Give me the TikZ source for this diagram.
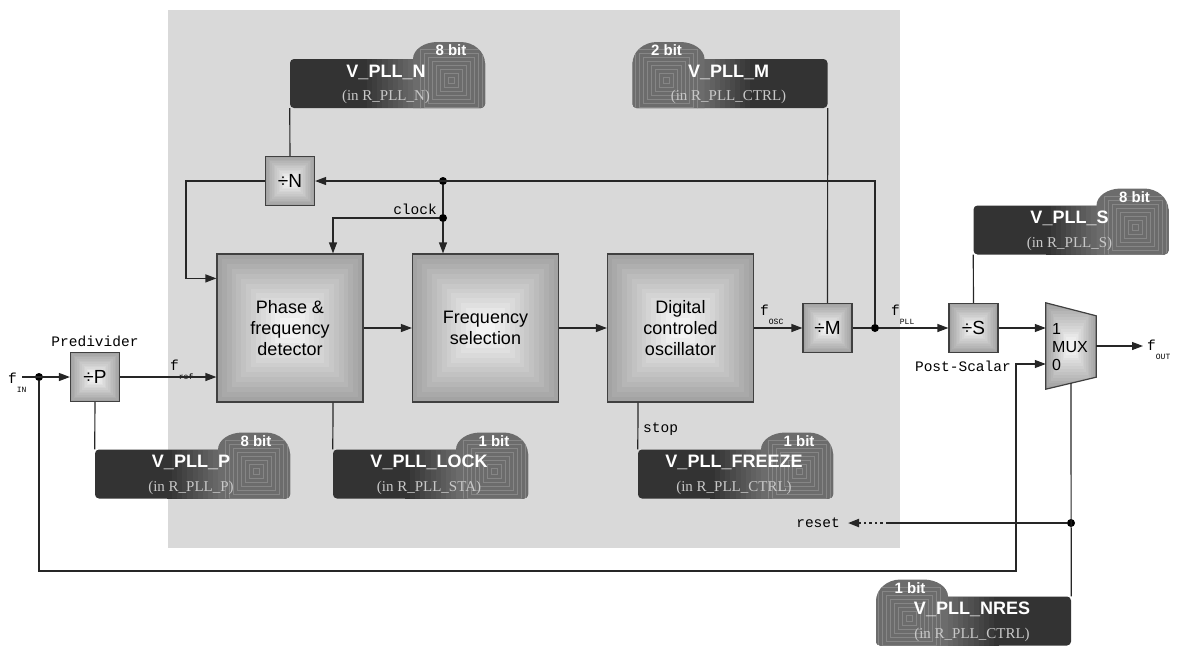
\documentclass[tikz,border=0pt]{standalone}
\usepackage{fontspec}
\setmainfont{Liberation Sans}
\newfontfamily\labelfont{Liberation Mono}
\newfontfamily\regfont{Liberation Serif}
\usepackage{tikz}
\usetikzlibrary{positioning,arrows.meta,calc}
\definecolor{panelgray}{HTML}{D9D9D9}
\definecolor{regdark}{HTML}{333333}
\definecolor{regtab}{HTML}{6C6C6C}
\definecolor{regsub}{HTML}{C8C8C8}

\tikzset{
  conn/.style={line width=1.2pt, black!85},
  sig/.style={conn, -{Triangle[length=11pt,width=8pt]}},
  dot/.style={circle, fill=black, inner sep=0pt, minimum size=8pt},
  shadebox/.style={draw=black!75, line width=1.2pt,
    path picture={
      \foreach \k [evaluate=\k as \c using 36-2.4*\k] in {0,...,13}
        \fill[black!\c]
          ($(path picture bounding box.south west)!\k/30!(path picture bounding box.north east)$)
          rectangle
          ($(path picture bounding box.north east)!\k/30!(path picture bounding box.south west)$);
    }},
  bigblock/.style={shadebox, minimum width=146pt, minimum height=148pt, align=center,
    font=\fontsize{18}{21}\selectfont},
  divbox/.style={shadebox, minimum size=49pt, inner sep=0pt, font=\fontsize{19}{19}\selectfont},
  lbl/.style={inner sep=0pt, font=\labelfont\fontsize{14.5}{14.5}\selectfont},
  regbody/.style={fill=regdark, rounded corners=4pt, minimum width=195pt, minimum height=49pt, inner sep=0pt},
  regname/.style={inner sep=0pt, text=white, font=\bfseries\fontsize{18}{18}\selectfont},
  regreg/.style={inner sep=0pt, text=regsub, font=\regfont\fontsize{15}{15}\selectfont},
  regbits/.style={inner sep=0pt, text=white, font=\bfseries\fontsize{15}{15}\selectfont},
}

% signal name with subscript
\newcommand{\fsig}[1]{f\raisebox{-9pt}{\fontsize{8}{8}\selectfont #1}}

% register field: name, centre, bits, field, register, tab side (1 right, -1 left)
\newcommand{\regbox}[6]{%
  \node[regbody] (#1) at (#2) {};
  \begin{scope}[shift={(#1.center)}, xscale=#6]
    \foreach \i [evaluate=\i as \m using 100-10*\i] in {0,...,9}
      \fill[regdark!\m!regtab] (-25.5+5.1*\i,-24.5) rectangle (-20.2+5.1*\i,24.5);
    \begin{scope}
      \clip (25.5,24.5) -- (25.5,-24.5) .. controls (25.5,-33.9) and (36.5,-41.5) .. (50,-41.5)
        -- (73,-41.5) .. controls (86.5,-41.5) and (97.5,-31.8) .. (97.5,-20) -- (97.5,24.5) -- cycle;
      \clip[rounded corners=4pt] (-97.5,-60) rectangle (97.5,24.5);
      \fill[regtab] (20,-45) rectangle (100,30);
      \foreach \r in {3,7,...,31}
        \draw[regtab!82!white, line width=0.5pt] (64-\r,-3-\r) rectangle (64+\r,-3+\r);
    \end{scope}
  \end{scope}
  \node[regname] (#1-n) at ($(#1.center)+(-1.5,-11.5)$) {#4};
  \node[regreg] (#1-r) at ($(#1.center)+(-1.5,13.5)$) {#5};
  \node[regbits] (#1-b) at ($(#1.center)+(#6*63.5,-33)$) {#3};
}

\begin{document}
\begin{tikzpicture}[x=1pt, y=-1pt]
  \useasboundingbox (0,0) rectangle (1183,646);
  % PLL core background
  \fill[panelgray] (168,10) rectangle (900,548);

  % main blocks
  \node[bigblock] (pfd) at (290,328) {Phase \&\\frequency\\detector};
  \node[bigblock] (fsel) at (485.5,328) {Frequency\\selection};
  \node[bigblock] (dco) at (680.5,328) {Digital\\controled\\oscillator};

  % dividers
  \node[divbox] (divP) at (95,377) {÷P};
  \node[divbox] (divN) at (290,181) {÷N};
  \node[divbox] (divM) at (827.5,328) {÷M};
  \node[divbox] (divS) at (973.5,328) {÷S};

  % multiplexer
  \node[minimum width=50pt, minimum height=86pt, inner sep=0pt] (mux) at (1071,346) {};
  \path[shadebox] (mux.north west) -- ($(mux.north east)+(0,13)$)
    -- ($(mux.south east)+(0,-12)$) -- (mux.south west) -- cycle;
  \node[anchor=west, inner sep=0pt, align=left, font=\fontsize{16}{18}\selectfont] (muxtxt)
    at (1052,347) {1\\MUX\\0};

  % register fields
  \regbox{regN}{387.5,83.5}{8 bit}{V\_PLL\_N}{(in R\_PLL\_N)}{1}
  \regbox{regM}{730,83.5}{2 bit}{V\_PLL\_M}{(in R\_PLL\_CTRL)}{-1}
  \regbox{regS}{1071,230}{8 bit}{V\_PLL\_S}{(in R\_PLL\_S)}{1}
  \regbox{regP}{192.5,474}{8 bit}{V\_PLL\_P}{(in R\_PLL\_P)}{1}
  \regbox{regL}{430.5,474}{1 bit}{V\_PLL\_LOCK}{(in R\_PLL\_STA)}{1}
  \regbox{regF}{735.5,474}{1 bit}{V\_PLL\_FREEZE}{(in R\_PLL\_CTRL)}{1}
  \regbox{regR}{973.5,621}{1 bit}{V\_PLL\_NRES}{(in R\_PLL\_CTRL)}{-1}

  % junctions
  \node[dot] (dIN) at (39,377) {};
  \node[dot] (dPLL) at (875,328) {};
  \node[dot] (dTop) at (443,181) {};
  \node[dot] (dClk) at (443,218) {};
  \node[dot] (dRst) at (1071,523) {};
  \coordinate (fin) at (22,377);
  \coordinate (nfb) at (186,181);
  \coordinate (loopc) at (875,181);
  \coordinate (inbr) at (1016,571);
  \coordinate (rstbrk) at (888,523);
  \coordinate (fout) at (1143,346);

  % labels
  \node[lbl, anchor=base] (predivlbl) at (95,346) {Predivider};
  \node[lbl, anchor=base east] (clklbl) at (437,214) {clock};
  \node[lbl, anchor=base west] (stoplbl) at (643,432) {stop};
  \node[lbl, anchor=base east] (pslbl) at (1011,371) {Post-Scalar};
  \node[lbl, anchor=east] (rst) at (840,523) {reset};
  \node[lbl, anchor=base west] (finlbl) at (8,383) {\fsig{IN}};
  \node[lbl, anchor=base west] (freflbl) at (170,370) {\fsig{ref}};
  \node[lbl, anchor=base west] (fosclbl) at (760,315) {\fsig{OSC}};
  \node[lbl, anchor=base west] (fplllbl) at (891,315) {\fsig{PLL}};
  \node[lbl, anchor=base west] (foutlbl) at (1147,350) {\fsig{OUT}};

  % signal path
  \draw[sig] (fin) -- (divP);
  \draw[sig] (divP) -- (pfd.west |- divP);
  \draw[sig] (pfd) -- (fsel);
  \draw[sig] (fsel) -- (dco);
  \draw[sig] (dco) -- (divM);
  \draw[conn] (divM) -- (dPLL);
  \draw[sig] (dPLL) -- (divS);
  \draw[sig] (divS) -- (divS -| mux.west);
  \draw[sig] (mux) -- (fout);
  % feedback and clock
  \draw[sig] (dPLL) -- (loopc) -- (divN);
  \draw[sig] (divN) -- (nfb) |- ($(pfd.north west)+(0,25)$);
  \draw[conn] (dTop) -- (dClk);
  \draw[sig] (dClk) -- (dClk |- fsel.north);
  \draw[sig] (dClk) -| ($(pfd.north)+(43,0)$);
  % bypass and reset
  \draw[sig] (dIN) |- (inbr) |- ($(mux.west)+(0,18)$);
  \draw[conn] ($(mux.south)+(0,-6)$) -- (regR.north east);
  \draw[conn] (dRst) -- (rstbrk);
  \draw[sig, line width=2pt, dash pattern=on 2.5pt off 3pt] (rstbrk) -- ([xshift=8pt]rst.east);
  % register links
  \draw[conn] (divN) -- (regN.south west);
  \draw[conn] (divM) -- (regM.south east);
  \draw[conn] (divS) -- (regS.south west);
  \draw[conn] (divP) -- (regP.north west);
  \draw[conn] ($(pfd.south)+(43,0)$) -- (regL.north west);
  \draw[conn] ($(dco.south)+(-42.5,0)$) -- (regF.north west);
\end{tikzpicture}
\end{document}
